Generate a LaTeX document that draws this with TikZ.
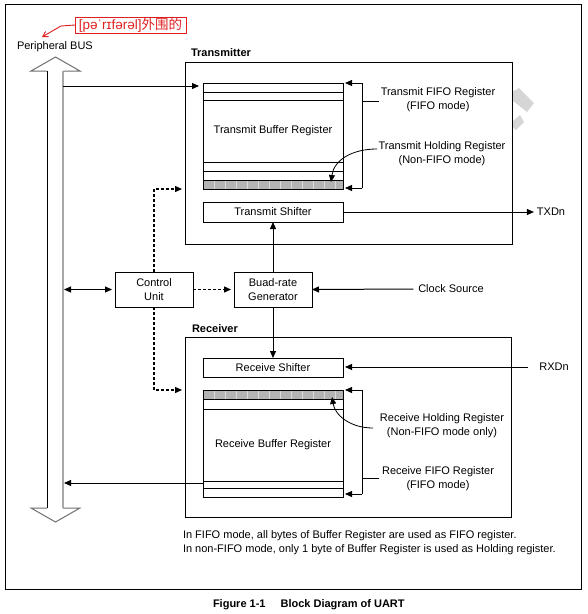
\documentclass[tikz,border=0pt]{standalone}
\usepackage{fontspec}
\setmainfont{Liberation Sans}
\newfontfamily\cjk{Noto Sans CJK SC}
\usetikzlibrary{arrows.meta}
\definecolor{bandgray}{HTML}{B4B4B4}
\definecolor{bandtick}{HTML}{DADADA}
\definecolor{wmgray}{HTML}{D6D6D6}
\definecolor{busgray}{HTML}{A8A8A8}
\definecolor{headgray}{HTML}{6E6E6E}
\definecolor{redlbl}{HTML}{E02020}
\begin{document}
\begin{tikzpicture}[x=1pt,y=-1pt,
  every node/.style={font=\fontsize{11}{14}\selectfont, inner sep=0pt, outer sep=0pt},
  box/.style={draw, line width=1pt},
  ln/.style={line width=1pt},
  arr/.style={line width=1pt, -{Triangle[length=7pt,width=6pt]}},
  darr/.style={line width=1pt, {Triangle[length=7pt,width=6pt]}-{Triangle[length=7pt,width=6pt]}},
  dsh/.style={line width=1.3pt, dash pattern=on 3pt off 2pt, -{Triangle[length=7pt,width=6pt]}},
  lbl/.style={font=\fontsize{11}{14}\selectfont\bfseries, anchor=base west},
  band/.style={fill=bandgray},
  tick/.style={draw=bandtick, line width=0.5pt},
]
\useasboundingbox (0,0) rectangle (588,614);
\fill[white] (0,0) rectangle (588,614);

% watermark fragments
\fill[wmgray] (512,92) -- (519,88) -- (534,103) -- (527,112) -- (512,100) -- cycle;
\fill[wmgray] (512,122) -- (520,115) -- (524,122) -- (516,130) -- (512,127) -- cycle;

% outer frame
\draw[ln] (5,4) rectangle (581,589);

% red annotation
\node[draw=redlbl, text=redlbl, line width=0.9pt, minimum width=111pt, minimum height=16pt,
      font=\fontsize{13.5}{16}\selectfont] (ipa) at (130.5,25) {[pəˈrɪfərəl]{\cjk 外围的}};
\coordinate (ipaK) at (61,26);
\coordinate (ipaT) at (42,37);
\draw[redlbl, line width=0.9pt, -{Straight Barb[length=5pt,width=6pt]}] (ipa.west) -- (ipaK) -- (ipaT);

\node[anchor=base west] (pbus) at (17,49) {Peripheral BUS};

% peripheral bus double arrow
\draw[headgray, line width=1pt] (63,71) -- (80,71) -- (55.5,57) -- (31,71) -- (47,71);
\draw[black, line width=1pt] (47,71) -- (47,508);
\draw[headgray, line width=1pt] (47,508) -- (31,508) -- (55.5,522) -- (80,508) -- (63,508);
\draw[busgray, line width=2pt] (63,71) -- (63,508);

% Transmitter
\node[lbl] (txl) at (191,56) {Transmitter};
\node[box, minimum width=327pt, minimum height=182pt] (tx) at (348.5,153) {};
\fill[band] (203,180) rectangle (343,189);
\foreach \x in {214,225,...,335} \draw[tick] (\x,180) -- (\x,189);
\node[box, minimum width=140pt, minimum height=106pt] (tb) at (273,136) {};
\node at (273,131) {Transmit Buffer Register};
\foreach \y in {92,100,162,171,180} \draw[ln] (203,\y) -- (343,\y);
\node[box, minimum width=140pt, minimum height=20pt] (ts) at (273,212) {Transmit Shifter};

\draw[ln] (362,83) -- (362,188);
\draw[arr] (362,83) -- (345,83);
\draw[arr] (362,188) -- (345,188);
\node[align=center] (tfifo) at (438,100) {Transmit FIFO Register\\(FIFO mode)};
\draw[ln] (362,101) -- ([xshift=-2pt]tfifo.west |- 362,101);
\node[align=center] (thold) at (442,154) {Transmit Holding Register\\(Non-FIFO mode)};
\draw[arr, line width=0.8pt] (377,149) .. controls (352,149) and (334,160) .. (331,182);

\node (txd) at (551,212) {TXDn};
\draw[arr] (ts.east) -- ([xshift=-3pt]txd.west);

% Control and baud
\node[box, minimum width=78pt, minimum height=35pt, align=center] (cu) at (154,289.5) {Control\\Unit};
\node[box, minimum width=78pt, minimum height=35pt, align=center] (br) at (273,289.5) {Buad-rate\\Generator};
\node (clk) at (451,289) {Clock Source};
\coordinate (busC) at (64,289.5);
\draw[darr, shorten >=3pt] (busC) -- (cu.west);
\draw[dsh, shorten >=3pt] (cu.east) -- (br.west);
\draw[arr] ([xshift=-5pt]clk.west) -- (br.east);
\draw[arr] (br.north) -- (ts.south);

\coordinate (txIn) at (182,189);
\coordinate (rxIn) at (182,390);
\draw[dsh] (cu.north) |- (txIn);
\draw[dsh] (cu.south) |- (rxIn);

% bus to transmit buffer
\coordinate (busT) at (63,86);
\coordinate (tbIn) at (199,86);
\draw[arr] (busT) -- (tbIn);

% Receiver
\node[lbl] (rxl) at (192,332) {Receiver};
\node[box, minimum width=326pt, minimum height=180pt] (rx) at (348,427) {};
\node[box, minimum width=140pt, minimum height=19pt] (rs) at (273,367.5) {Receive Shifter};
\draw[arr] (br.south) -- (rs.north);
\node (rxd) at (554,367) {RXDn};
\draw[arr, shorten >=2pt] ([xshift=-11pt]rxd.west) -- (rs.east |- rxd.west);

\fill[band] (203,390) rectangle (343,399);
\foreach \x in {214,225,...,335} \draw[tick] (\x,390) -- (\x,399);
\node[box, minimum width=140pt, minimum height=107pt] (rb) at (273,443.5) {};
\node at (273,445) {Receive Buffer Register};
\foreach \y in {399,409,481,488} \draw[ln] (203,\y) -- (343,\y);

\draw[ln] (362,390) -- (362,494);
\draw[arr] (362,390) -- (345,390);
\draw[arr] (362,494) -- (345,494);
\node[align=center] (rhold) at (442,426) {Receive Holding Register\\(Non-FIFO mode only)};
\node[align=center] (rfifo) at (438,479) {Receive FIFO Register\\(FIFO mode)};
\draw[ln] (362,478) -- ([xshift=-3pt]rfifo.west |- 362,478);
\draw[arr, line width=0.8pt] (373,428) .. controls (350,428) and (335,415) .. (332,397);

\coordinate (rbOut) at (203,483);
\coordinate (busR) at (64,483);
\draw[arr] (rbOut) -- (busR);

% notes
\node[anchor=base west] (n1) at (183,538) {In FIFO mode, all bytes of Buffer Register are used as FIFO register.};
\node[anchor=base west] (n2) at (183,552) {In non-FIFO mode, only 1 byte of Buffer Register is used as Holding register.};

% caption
\node[lbl] (cap) at (213,607) {Figure 1-1\hspace{15pt}Block Diagram of UART};
\end{tikzpicture}
\end{document}
